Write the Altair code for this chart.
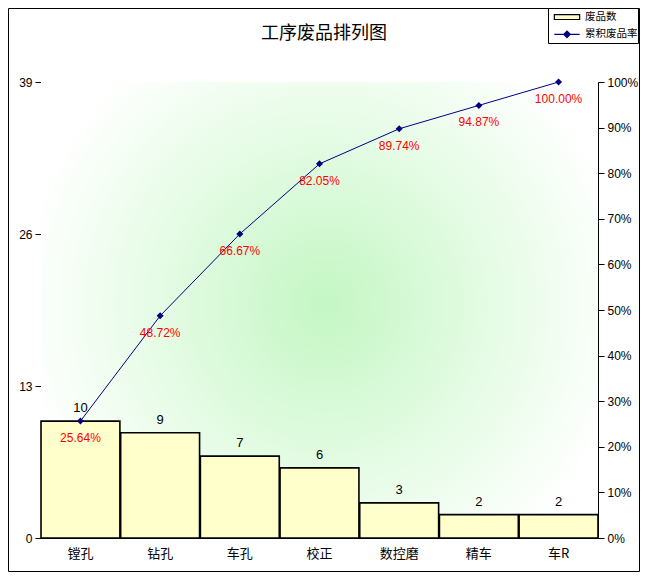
import altair as alt
import pandas as pd

title_text = "工序废品排列图"
categories = ["镗孔", "钻孔", "车孔", "校正", "数控磨", "精车", "车R"]
counts = [10, 9, 7, 6, 3, 2, 2]
cum_pct = [25.64, 48.72, 66.67, 82.05, 89.74, 94.87, 100.00]
left_ticks = [0, 13, 26, 39]
right_ticks = [0, 10, 20, 30, 40, 50, 60, 70, 80, 90, 100]

CJK = "Noto Sans CJK SC"
NUM = "Liberation Sans"
W, H = 557, 456
PL, PT, PR, PB = 33, 74, 42, 34
BX, BY = 507, -74  # legend box origin, relative to plot area

bars_df = pd.DataFrame({"cat": categories, "count": counts, "s": "废品数"})
line_df = pd.DataFrame({"cat": categories, "pct": cum_pct, "s": "累积废品率"})
one = pd.DataFrame({"t": [title_text]})

x = alt.X("cat:N", sort=None, title=None,
          scale=alt.Scale(paddingInner=0.01, paddingOuter=0),
          axis=alt.Axis(labelFont=CJK, labelFontSize=13, labelColor="black",
                        ticks=False, domainColor="black", labelPadding=9,
                        labelAngle=0))

leg_common = dict(orient="none", title=None, padding=0,
                  labelFont=CJK, labelFontSize=10.5, labelColor="black",
                  labelOffset=11.5, symbolSize=121, labelLimit=200)

fill = alt.Fill(
    "s:N", scale=alt.Scale(domain=["废品数"], range=["#FFFFCC"]),
    legend=alt.Legend(legendX=519.5, legendY=-71.5,
                      symbolType="M-2.3,-0.45L2.3,-0.45L2.3,0.45L-2.3,0.45Z",
                      symbolStrokeColor="black", symbolStrokeWidth=1.2,
                      **leg_common))

stroke = alt.Stroke(
    "s:N", scale=alt.Scale(domain=["累积废品率"], range=["#000080"]),
    legend=alt.Legend(legendX=519.5, legendY=-54.2,
                      symbolType="M-2.3,0L2.3,0M-0.6,0L0,-0.6L0.6,0L0,0.6Z",
                      symbolFillColor="#000080", symbolStrokeWidth=1.2,
                      **leg_common))

bg = alt.Chart(pd.DataFrame({"a": [0]})).mark_rect(
    fill={"gradient": "radial",
          "stops": [{"offset": 0, "color": "#c4f6c4"},
                    {"offset": 0.5, "color": "#e2fbe2"},
                    {"offset": 1, "color": "#ffffff"}],
          "x1": 0.51, "y1": 0.49, "r1": 0, "x2": 0.51, "y2": 0.49, "r2": 0.55},
).encode(x=alt.value(0), x2=alt.value(W), y=alt.value(0), y2=alt.value(H))

frame = alt.Chart(pd.DataFrame({"a": [0]})).mark_rect(
    fill=None, stroke="black", strokeWidth=1
).encode(x=alt.value(-PL + 0.5), x2=alt.value(W + PR - 0.5),
         y=alt.value(-PT + 0.5), y2=alt.value(H + PB - 0.5))

legend_box = alt.Chart(pd.DataFrame({"a": [0]})).mark_rect(
    fill="white", stroke="black", strokeWidth=1
).encode(x=alt.value(BX + 0.5), x2=alt.value(BX + 90.5),
         y=alt.value(BY + 0.5), y2=alt.value(BY + 35.5))

title = alt.Chart(one).mark_text(
    font=CJK, fontSize=18, color="black", baseline="middle", align="center"
).encode(x=alt.value(283), y=alt.value(-48.5), text="t:N")

y_left = alt.Y("count:Q", title=None,
               scale=alt.Scale(domain=[0, 39], nice=False, zero=True),
               axis=alt.Axis(values=left_ticks, grid=False, domainColor="black",
                             tickColor="black", tickSize=6, labelFont=NUM,
                             labelFontSize=12, labelColor="black", labelPadding=3))

bars = alt.Chart(bars_df).mark_bar(stroke="black", strokeWidth=1.6).encode(
    x=x, y=y_left, fill=fill)
count_text = alt.Chart(bars_df).mark_text(
    dy=-13, font=NUM, fontSize=13, color="black").encode(
    x=x, y=y_left, text="count:Q")
left = alt.layer(bars, count_text)

y_right = alt.Y("pct:Q", title=None,
                scale=alt.Scale(domain=[0, 100], nice=False),
                axis=alt.Axis(orient="right", values=right_ticks, grid=False,
                              domainColor="black", tickColor="black", tickSize=6,
                              labelFont=NUM, labelFontSize=12, labelColor="black",
                              labelPadding=3, labelExpr="datum.value + '%'"))

line = alt.Chart(line_df).mark_line(strokeWidth=1).encode(
    x=x, y=y_right, stroke=stroke)
pts = alt.Chart(line_df).mark_point(
    shape="diamond", filled=True, size=49, opacity=1, color="#000080").encode(
    x=x, y=y_right)
pct_text = alt.Chart(line_df).transform_calculate(
    lbl="format(datum.pct, '.2f') + '%'"
).mark_text(dy=17, font=NUM, fontSize=12, color="#FF0000").encode(
    x=x, y=y_right, text="lbl:N")
right = alt.layer(line, pts, pct_text)

chart = alt.layer(bg, left, right, frame, legend_box, title).resolve_scale(
    y="independent"
).properties(
    width=W, height=H,
    autosize=alt.AutoSizeParams(type="none"),
    padding={"left": PL, "top": PT, "right": PR, "bottom": PB},
).configure_view(stroke="#808080", strokeWidth=1).configure(background="white")

chart.save("out.html", embed_options={"renderer": "svg", "actions": False})
